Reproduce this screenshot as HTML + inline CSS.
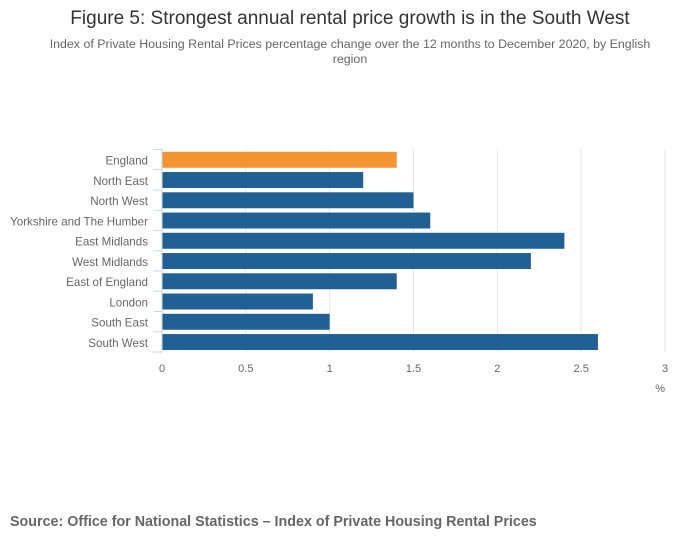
<!DOCTYPE html>
<html><head><meta charset="utf-8"><style>
body{margin:0;background:#fff;font-family:"Liberation Sans",sans-serif;}
</style></head><body>
<svg width="700" height="549" xmlns="http://www.w3.org/2000/svg">
<text x="350" y="24" text-anchor="middle" font-size="19" fill="#333">Figure 5: Strongest annual rental price growth is in the South West</text>
<text x="350" y="48" text-anchor="middle" font-size="12.4" fill="#666">Index of Private Housing Rental Prices percentage change over the 12 months to December 2020, by English</text>
<text x="350" y="63" text-anchor="middle" font-size="12.4" fill="#666">region</text>
<g id="grid"></g>
<g id="bars"></g>
<g id="yax"></g>
<g id="xax"></g>
<text x="665" y="392" text-anchor="end" font-size="11" fill="#666">%</text>
<text x="10" y="526" font-size="14.3" font-weight="bold" fill="#666">Source: Office for National Statistics – Index of Private Housing Rental Prices</text>
</svg>
<script>
const categories=["England","North East","North West","Yorkshire and The Humber","East Midlands","West Midlands","East of England","London","South East","South West"];
const values=[1.4,1.2,1.5,1.6,2.4,2.2,1.4,0.9,1.0,2.6];
const xTicks=[0,0.5,1,1.5,2,2.5,3];
const NS="http://www.w3.org/2000/svg";
const x0=162,x1=665,yTop=149.5,yBot=352;
const band=(yBot-yTop)/categories.length;
const xs=v=>x0+(v/3)*(x1-x0);
function mk(tag,attrs,parent){const e=document.createElementNS(NS,tag);for(const k in attrs)e.setAttribute(k,attrs[k]);document.getElementById(parent).appendChild(e);return e;}
xTicks.forEach(t=>{
 if(t>0){const g=mk('line',{x1:xs(t),x2:xs(t),y1:yTop,y2:yBot,stroke:'#e6e6e6','stroke-width':1},'grid');
 
 }
 const l=mk('text',{x:xs(t),y:372,'text-anchor':'middle','font-size':11,fill:'#666'},'xax');
 l.textContent=t;
 
 
});
const ax=mk('line',{x1:x0,x2:x0,y1:yTop,y2:yBot,stroke:'#ccd6eb','stroke-width':1},'yax');


for(let i=0;i<=categories.length;i++){
 const tk=mk('line',{x1:x0-9,x2:x0,y1:yTop+i*band,y2:yTop+i*band,stroke:'#ccd6eb','stroke-width':1},'yax');
 
 
}
categories.forEach((c,i)=>{
 const y=yTop+i*band;
 const b=mk('rect',{x:x0+0.5,y:y+2.3,width:xs(values[i])-x0-0.5,height:band-4.3,fill:i===0?'#f39431':'#206095'},'bars');
 
 
 const t=mk('text',{x:148,y:y+band/2+5,'text-anchor':'end','font-size':11.6,fill:'#666'},'yax');
 t.textContent=c;
 
 
});
</script>
</body></html>
